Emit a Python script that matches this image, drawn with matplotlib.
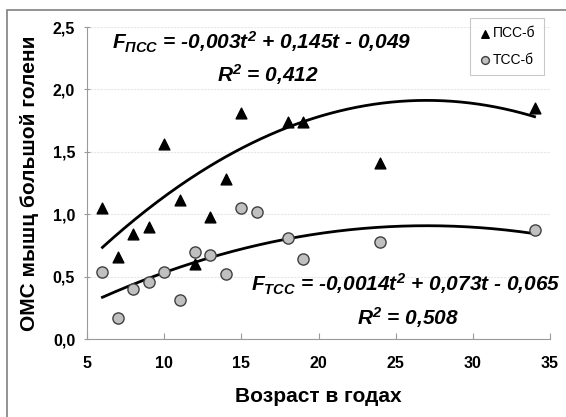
"""
OMS of shank muscles vs age, two groups with quadratic trend lines.
"""

import numpy as np
import matplotlib
matplotlib.use("Agg")
import matplotlib.pyplot as plt
from matplotlib.patches import Rectangle
from matplotlib.ticker import FuncFormatter

plt.rcParams["font.family"] = ["Liberation Sans", "DejaVu Sans"]
plt.rcParams["mathtext.fontset"] = "custom"
plt.rcParams["mathtext.rm"] = "Liberation Sans:bold:italic"
plt.rcParams["mathtext.it"] = "Liberation Sans:bold:italic"
plt.rcParams["mathtext.bf"] = "Liberation Sans:bold:italic"

# --- data ---
age_pss = [6, 7, 8, 9, 10, 11, 12, 13, 14, 15, 18, 19, 24, 34]
oms_pss = [1.05, 0.66, 0.84, 0.90, 1.56, 1.11, 0.60, 0.98, 1.28, 1.81, 1.74, 1.74, 1.41, 1.85]

age_tss = [6, 7, 8, 9, 10, 11, 12, 13, 14, 15, 16, 18, 19, 24, 34]
oms_tss = [0.54, 0.17, 0.40, 0.46, 0.54, 0.31, 0.70, 0.67, 0.52, 1.05, 1.02, 0.81, 0.64, 0.78, 0.87]

# trend coefficients (a, b, c) as drawn (the printed ones are rounded)
fit_pss = [-0.00267, 0.1442, -0.035]
fit_tss = [-0.0013, 0.0702, -0.040]
fit_range = (6, 34)

series_labels = ["ПСС-б", "ТСС-б"]
x_ticks = [5, 10, 15, 20, 25, 30, 35]
y_ticks = [0.0, 0.5, 1.0, 1.5, 2.0, 2.5]

W, H = 566, 417
fig = plt.figure(figsize=(W / 100, H / 100), dpi=100)
ax = fig.add_axes([87 / W, 1 - 339 / H, (550 - 87) / W, (339 - 27) / H])

# outer frame (only left and top visible in the original)
fig.patches.append(Rectangle((7 / W, -0.2), 1.2, 1.2 - 10 / H,
                             transform=fig.transFigure, fill=False,
                             edgecolor="#808080", linewidth=1.2))

ax.set_xlim(5, 35)
ax.set_ylim(0, 2.5)
ax.set_xticks(x_ticks)
ax.set_yticks(y_ticks)
ax.yaxis.set_major_formatter(FuncFormatter(lambda v, p: f"{v:.1f}".replace(".", ",")))
ax.grid(axis="y", color="#e6e6e6", linewidth=0.8, linestyle=(0, (2, 1)))
ax.set_axisbelow(True)
for side in ("top", "right"):
    ax.spines[side].set_visible(False)
for side in ("left", "bottom"):
    ax.spines[side].set_color("#9a9a9a")
ax.tick_params(axis="x", direction="in", length=4, color="#9a9a9a", pad=12,
               labelsize=11.5)
ax.tick_params(axis="y", direction="inout", length=5, color="#9a9a9a", pad=6,
               labelsize=11.5)
for lab in ax.get_xticklabels() + ax.get_yticklabels():
    lab.set_fontweight("bold")

# trend lines
t = np.linspace(*fit_range, 200)
for c in (fit_pss, fit_tss):
    ax.plot(t, np.polyval(c, t), color="black", linewidth=2, zorder=2)

ax.scatter(age_pss, oms_pss, marker="^", s=60, color="black", zorder=3,
           label=series_labels[0])
ax.scatter(age_tss, oms_tss, marker="o", s=65, facecolor="#c0c0c0",
           edgecolor="#404040", linewidth=1, zorder=3, label=series_labels[1])

leg = ax.legend(loc="upper right", bbox_to_anchor=(544 / W, 1 - 18 / H),
                bbox_transform=fig.transFigure, borderaxespad=0, fontsize=10,
                handletextpad=0.1, handlelength=1.0, borderpad=0.6,
                labelspacing=0.9, fancybox=False, edgecolor="#bbbbbb",
                markerscale=0.7)
leg.get_frame().set_linewidth(0.8)

eq_kw = dict(transform=fig.transFigure, fontsize=15, fontweight="bold",
             fontstyle="italic", va="center")
fig.text(112 / W, 1 - 42 / H, r"$F_{ПСС}$ = -0,003t$^{2}$ + 0,145t - 0,049",
         ha="left", **eq_kw)
fig.text(268 / W, 1 - 75 / H, r"R$^{2}$ = 0,412", ha="center", **eq_kw)
fig.text(251 / W, 1 - 284 / H, r"$F_{ТСС}$ = -0,0014t$^{2}$ + 0,073t - 0,065",
         ha="left", **eq_kw)
fig.text(408 / W, 1 - 318 / H, r"R$^{2}$ = 0,508", ha="center", **eq_kw)

ax.set_xlabel("Возраст в годах", fontsize=15, fontweight="bold", labelpad=12)
ax.set_ylabel("ОМС мышц большой голени", fontsize=15, fontweight="bold",
              labelpad=10)

fig.savefig("out.png", dpi=100)
